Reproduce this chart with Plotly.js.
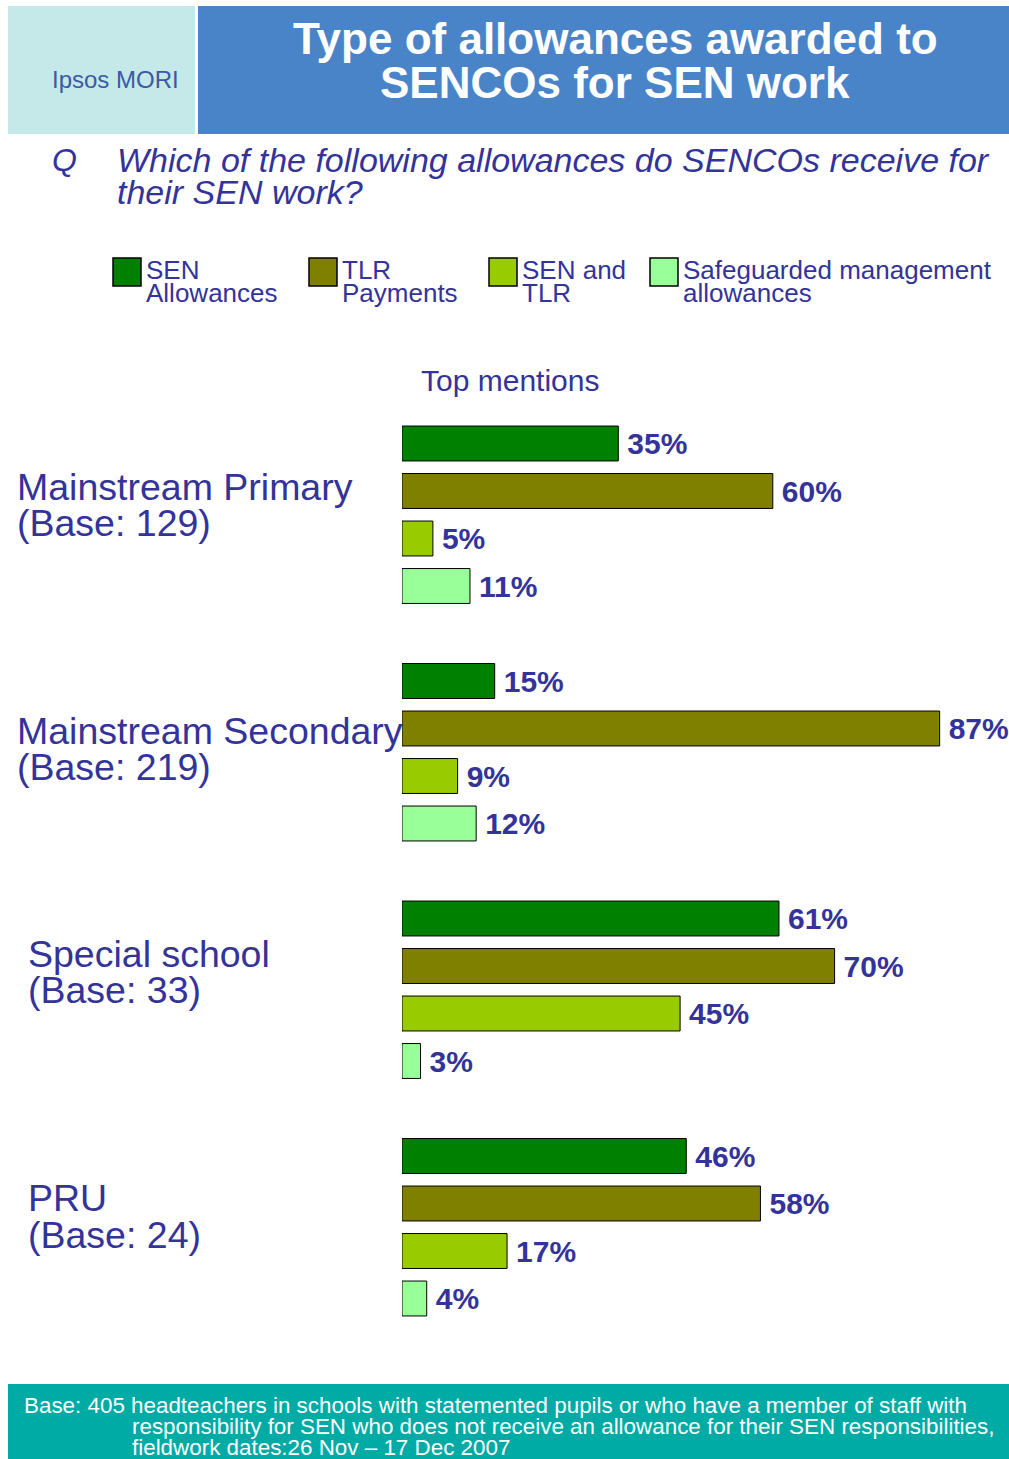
<!DOCTYPE html>
<html>
<head>
<meta charset="utf-8">
<script src="https://cdn.plot.ly/plotly-3.0.1.min.js"></script>
<style>
html,body{margin:0;padding:0;background:#fff;}
#chart{width:1009px;height:1459px;}
</style>
</head>
<body>
<div id="chart"></div>
<script>
// ---- data ----
var groups = ["Mainstream Primary", "Mainstream Secondary", "Special school", "PRU"];
var groupBases = ["(Base: 129)", "(Base: 219)", "(Base: 33)", "(Base: 24)"];
var seriesNames = ["SEN Allowances", "TLR Payments", "SEN and TLR", "Safeguarded management allowances"];
var senAllowances = [35, 15, 61, 46];
var tlrPayments = [60, 87, 70, 58];
var senAndTlr = [5, 9, 45, 17];
var safeguarded = [11, 12, 3, 4];
var legendLines = [["SEN", "Allowances"], ["TLR", "Payments"], ["SEN and", "TLR"], ["Safeguarded management", "allowances"]];

// ---- styling ----
var colors = ["#008000", "#808000", "#99CC00", "#99FF99"];
var txtBlue = "#333399";
var W = 1009, H = 1459;
var L = 402, R = 0, T = 396, B = H - 1346;
var plotW = W - L - R, plotH = H - T - B;
function px(x){ return (x - L) / plotW; }
function py(y){ return (H - B - y) / plotH; }

var seriesVals = [senAllowances, tlrPayments, senAndTlr, safeguarded];
var traces = seriesVals.map(function(vals, i){
  return {
    type: "bar", orientation: "h",
    name: seriesNames[i],
    y: groups, x: vals,
    marker: {color: colors[i], line: {color: "#000", width: 1}},
    text: vals.map(function(v){ return "\u2009" + v + "%"; }),
    textposition: "outside",
    textfont: {family: "Arial, Liberation Sans, sans-serif", size: 30, color: txtBlue, weight: "bold"},
    constraintext: "none",
    cliponaxis: false,
    hoverinfo: "none",
    showlegend: false
  };
});

var ann = [];
var shapes = [];
function addText(text, x, y, size, color, opts){
  opts = opts || {};
  ann.push({
    text: text, xref: "paper", yref: "paper", x: px(x), y: py(y),
    xanchor: opts.xanchor || "left", yanchor: "middle", showarrow: false,
    font: {family: opts.family || "Arial, Liberation Sans, sans-serif", size: size, color: color,
           weight: opts.bold ? "bold" : "normal", style: opts.italic ? "italic" : "normal"}
  });
}

// header boxes
shapes.push({type:"rect", xref:"paper", yref:"paper", x0:px(8), x1:px(195), y0:py(6), y1:py(134), fillcolor:"#C5E8E8", line:{width:0}, layer:"below"});
shapes.push({type:"rect", xref:"paper", yref:"paper", x0:px(198), x1:px(1009), y0:py(6), y1:py(134), fillcolor:"#4A84C8", line:{width:0}, layer:"below"});
addText("Ipsos MORI", 115, 79, 24, "#3A5AA5", {xanchor:"center"});
addText("Type of allowances awarded to", 615, 38, 44, "#FFFFFF", {xanchor:"center", bold:true});
addText("SENCOs for SEN work", 615, 83, 44, "#FFFFFF", {xanchor:"center", bold:true});

// question
addText("Q", 50, 160, 32, txtBlue, {italic:true});
addText("Which of the following allowances do SENCOs receive for", 115, 160, 34, txtBlue, {italic:true});
addText("their SEN work?", 115, 192, 34, txtBlue, {italic:true});

// legend
var legX = [113, 309, 489, 650];
legendLines.forEach(function(lines, i){
  shapes.push({type:"rect", xref:"paper", yref:"paper", x0:px(legX[i]), x1:px(legX[i]+28), y0:py(258), y1:py(286),
               fillcolor: colors[i], line:{color:"#000", width:1.5}});
  addText(lines[0], legX[i]+31, 270, 26, txtBlue);
  addText(lines[1], legX[i]+31, 293, 26, txtBlue);
});

// top mentions
addText("Top mentions", 419, 381, 30, txtBlue);

// group labels
var labelX = [15, 15, 26, 26];
var labelY = [[487, 523], [731, 767], [954, 990], [1198, 1235]];
groups.forEach(function(g, i){
  addText(g, labelX[i], labelY[i][0], 37.5, txtBlue);
  addText(groupBases[i], labelX[i], labelY[i][1], 37.5, txtBlue);
});

// footer
shapes.push({type:"rect", xref:"paper", yref:"paper", x0:px(8), x1:px(1009), y0:py(1384), y1:py(1459), fillcolor:"#00ABA5", line:{width:0}, layer:"below"});
addText("Base: 405 headteachers in schools with statemented pupils or who have a member of staff with", 22, 1405, 22.4, "#FFFFFF");
addText("responsibility for SEN who does not receive an allowance for their SEN responsibilities,", 130, 1426, 22.4, "#FFFFFF");
addText("fieldwork dates:26 Nov \u2013 17 Dec 2007", 130, 1447, 22.4, "#FFFFFF");

var layout = {
  width: W, height: H,
  margin: {l: L, r: R, t: T, b: B, pad: 0},
  paper_bgcolor: "#FFFFFF", plot_bgcolor: "rgba(0,0,0,0)",
  barmode: "group",
  bargap: 0.2,
  bargroupgap: 0.265,
  showlegend: false,
  xaxis: {range: [0, plotW / 6.18], showgrid: false, zeroline: false, showticklabels: false, showline: false, fixedrange: true},
  yaxis: {type: "category", categoryorder: "array", categoryarray: groups, autorange: "reversed",
          showgrid: false, zeroline: false, showticklabels: false, showline: false, fixedrange: true},
  annotations: ann,
  shapes: shapes,
  font: {family: "Arial, Liberation Sans, sans-serif"}
};

Plotly.newPlot("chart", traces, layout, {displayModeBar: false, staticPlot: true});
</script>
</body>
</html>
